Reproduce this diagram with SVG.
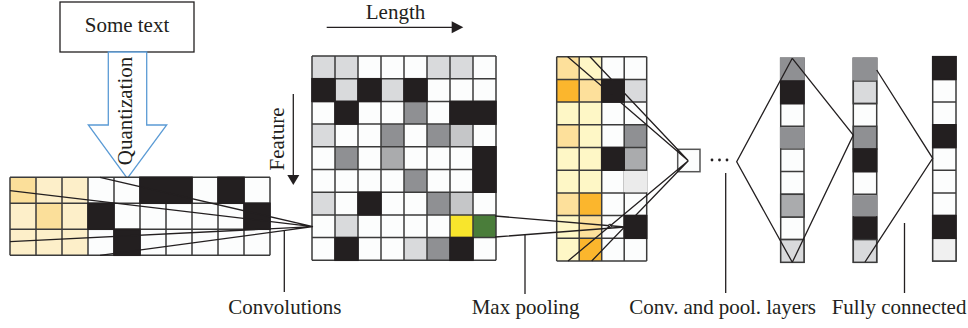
<svg xmlns="http://www.w3.org/2000/svg" width="968" height="328" viewBox="0 0 968 328">
<style>
text{font-family:"Liberation Serif","Times New Roman",serif;font-size:21px;fill:#231f20}
.grid{fill:none;stroke:#3b3b3b;stroke-width:1.5}
.cell{stroke:#3b3b3b;stroke-width:1.5}
.w{fill:#fcfdfd}.lg{fill:#d9dadc}.g{fill:#8f9093}.s{fill:#c5c6c8}.m{fill:#aaabad}
.k{fill:#231f20;stroke:#231f20;stroke-width:1.5}
.y{fill:#f8e52c}.gr{fill:#4a7d3a}.py{fill:#fef7c6}.lo{fill:#fde09b}.or{fill:#fbb62d}
.ly{fill:#fdefc9}.dy{fill:#fbdf9a}.vl{fill:#ebebeb}.xl{fill:#f0f0f0}
.ln{fill:none;stroke:#231f20;stroke-width:1.3}
</style>

<g id="some-text">
<rect x="60" y="2" width="134" height="50" fill="#fff" stroke="#231f20" stroke-width="1.3"/>
<text x="127" y="32" text-anchor="middle">Some text</text>
</g>

<g id="quantization-arrow">
<polygon points="108.3,52 108.3,125 88.3,125 127.3,178.3 166.7,125 146.7,125 146.7,52" fill="#fff" stroke="#5b9bd5" stroke-width="1.3"/>
<text transform="translate(132,111) rotate(-90)" text-anchor="middle">Quantization</text>
</g>

<g id="input-matrix">
<rect x="10" y="177.3" width="260" height="78" class="w"/>
<rect x="10" y="177.3" width="78" height="78" class="ly"/>
<rect x="10" y="177.3" width="26" height="26" class="dy"/>
<rect x="36" y="203.3" width="26" height="26" class="dy"/>
<path class="grid" d="M10 177.3V255.3M36 177.3V255.3M62 177.3V255.3M88 177.3V255.3M114 177.3V255.3M140 177.3V255.3M166 177.3V255.3M192 177.3V255.3M218 177.3V255.3M244 177.3V255.3M270 177.3V255.3M10 177.3H270M10 203.3H270M10 229.3H270M10 255.3H270"/>
<rect x="140" y="177.3" width="52" height="26" class="k"/>
<rect x="218" y="177.3" width="26" height="26" class="k"/>
<rect x="88" y="203.3" width="26" height="26" class="k"/>
<rect x="244" y="203.3" width="26" height="26" class="k"/>
<rect x="114" y="229.3" width="26" height="26" class="k"/>
</g>

<g id="length-axis">
<text x="395.5" y="19" text-anchor="middle">Length</text>
<path class="ln" d="M326.7 27.3H453"/>
<polygon points="451.7,21.3 463.3,27.3 451.7,33.3" fill="#231f20"/>
</g>

<g id="feature-axis">
<text transform="translate(284,139) rotate(-90)" text-anchor="middle">Feature</text>
<path class="ln" d="M293.3 94V176"/>
<polygon points="287.3,175 299.3,175 293.3,185" fill="#231f20"/>
</g>

<g id="feature-map">
<rect x="312" y="56" width="184" height="204.3" class="w"/>
<rect x="312" y="56" width="23" height="22.7" class="lg"/>
<rect x="335" y="56" width="23" height="22.7" class="lg"/>
<rect x="427" y="56" width="23" height="22.7" class="lg"/>
<rect x="450" y="56" width="23" height="22.7" class="lg"/>
<rect x="335" y="78.7" width="23" height="22.7" class="lg"/>
<rect x="381" y="78.7" width="23" height="22.7" class="lg"/>
<rect x="404" y="101.4" width="23" height="22.7" class="g"/>
<rect x="312" y="124.1" width="23" height="22.7" class="lg"/>
<rect x="381" y="124.1" width="23" height="22.7" class="g"/>
<rect x="427" y="124.1" width="23" height="22.7" class="g"/>
<rect x="450" y="124.1" width="23" height="22.7" class="s"/>
<rect x="335" y="146.8" width="23" height="22.7" class="g"/>
<rect x="381" y="146.8" width="23" height="22.7" class="m"/>
<rect x="404" y="169.5" width="23" height="22.7" class="g"/>
<rect x="312" y="192.2" width="23" height="22.7" class="lg"/>
<rect x="427" y="192.2" width="23" height="22.7" class="g"/>
<rect x="450" y="192.2" width="23" height="22.7" class="s"/>
<rect x="335" y="214.9" width="23" height="22.7" class="lg"/>
<rect x="450" y="214.9" width="23" height="22.7" class="y"/>
<rect x="473" y="214.9" width="23" height="22.7" class="gr"/>
<rect x="404" y="237.6" width="23" height="22.7" class="lg"/>
<rect x="427" y="237.6" width="23" height="22.7" class="g"/>
<path class="grid" d="M312 56V260.3M335 56V260.3M358 56V260.3M381 56V260.3M404 56V260.3M427 56V260.3M450 56V260.3M473 56V260.3M496 56V260.3M312 56H496M312 78.7H496M312 101.4H496M312 124.1H496M312 146.8H496M312 169.5H496M312 192.2H496M312 214.9H496M312 237.6H496M312 260.3H496"/>
<rect x="312" y="78.7" width="23" height="22.7" class="k"/>
<rect x="358" y="78.7" width="23" height="22.7" class="k"/>
<rect x="404" y="78.7" width="23" height="22.7" class="k"/>
<rect x="335" y="101.4" width="23" height="22.7" class="k"/>
<rect x="450" y="101.4" width="46" height="22.7" class="k"/>
<rect x="473" y="146.8" width="23" height="45.4" class="k"/>
<rect x="358" y="192.2" width="23" height="22.7" class="k"/>
<rect x="335" y="237.6" width="23" height="22.7" class="k"/>
<rect x="450" y="237.6" width="23" height="22.7" class="k"/>
</g>

<g id="pooled-map">
<rect x="556.7" y="56.7" width="90" height="204.3" class="w"/>
<rect x="556.7" y="56.7" width="22.5" height="22.7" class="lo"/>
<rect x="579.2" y="56.7" width="22.5" height="22.7" class="py"/>
<rect x="556.7" y="79.4" width="22.5" height="22.7" class="or"/>
<rect x="579.2" y="79.4" width="22.5" height="22.7" class="lo"/>
<rect x="624.2" y="79.4" width="22.5" height="22.7" class="lg"/>
<rect x="556.7" y="102.1" width="45" height="22.7" class="py"/>
<rect x="556.7" y="124.8" width="22.5" height="22.7" class="lo"/>
<rect x="579.2" y="124.8" width="22.5" height="22.7" class="py"/>
<rect x="624.2" y="124.8" width="22.5" height="22.7" class="g"/>
<rect x="556.7" y="147.5" width="45" height="45.4" class="py"/>
<rect x="624.2" y="147.5" width="22.5" height="22.7" class="m"/>
<rect x="556.7" y="192.9" width="22.5" height="22.7" class="lo"/>
<rect x="579.2" y="192.9" width="22.5" height="22.7" class="or"/>
<rect x="556.7" y="215.6" width="22.5" height="22.7" class="py"/>
<rect x="579.2" y="215.6" width="22.5" height="22.7" class="lo"/>
<rect x="556.7" y="238.3" width="22.5" height="22.7" class="py"/>
<rect x="579.2" y="238.3" width="22.5" height="22.7" class="or"/>
<path class="grid" d="M556.7 56.7V261M579.2 56.7V261M601.7 56.7V261M624.2 56.7V261M646.7 56.7V261M556.7 56.7H646.7M556.7 79.4H646.7M556.7 102.1H646.7M556.7 124.8H646.7M556.7 147.5H646.7M556.7 170.2H646.7M556.7 192.9H646.7M556.7 215.6H646.7M556.7 238.3H646.7M556.7 261H646.7"/>
<rect x="623.4" y="170.9" width="24.2" height="21.3" class="vl"/>
<rect x="601.7" y="79.4" width="22.5" height="22.7" class="k"/>
<rect x="601.7" y="147.5" width="22.5" height="22.7" class="k"/>
<rect x="624.2" y="215.6" width="22.5" height="22.7" class="k"/>
</g>

<g id="conv-unit">
<rect x="677.7" y="149.3" width="22.3" height="22.4" fill="#fcfdfd" stroke="#555" stroke-width="1.5"/>
</g>

<g id="ellipsis">
<circle cx="712" cy="160" r="1.4" fill="#231f20"/>
<circle cx="719.5" cy="160" r="1.4" fill="#231f20"/>
<circle cx="727" cy="160" r="1.4" fill="#231f20"/>
</g>

<g id="layer-a">
<rect x="780.7" y="58.3" width="23.3" height="204" class="w cell"/>
<path class="grid" d="M780.7 81H804M780.7 103.6H804M780.7 126.3H804M780.7 149H804M780.7 171.6H804M780.7 194.3H804M780.7 217H804M780.7 239.6H804"/>
<rect x="779.9" y="57.5" width="24.9" height="22.8" class="g"/>
<rect x="780.7" y="81" width="23.3" height="22.6" class="k"/>
<rect x="779.9" y="127.1" width="24.9" height="21.1" class="g"/>
<rect x="780.7" y="194.3" width="23.3" height="22.7" class="m cell"/>
<rect x="780.7" y="239.6" width="23.3" height="22.7" class="lg cell"/>
</g>

<g id="layer-b">
<rect x="853.3" y="58.3" width="23.4" height="204" class="w cell"/>
<rect x="853.3" y="81" width="23.4" height="22.6" class="lg cell"/>
<rect x="853.3" y="126.3" width="23.4" height="22.7" class="g cell"/>
<path class="grid" d="M853.3 103.6H876.7M853.3 171.6H876.7M853.3 194.3H876.7"/>
<rect x="852.5" y="57.5" width="25" height="22.8" class="g"/>
<rect x="853.3" y="149" width="23.4" height="22.6" class="k"/>
<rect x="852.5" y="195.1" width="25" height="21.1" class="g"/>
<rect x="853.3" y="217" width="23.4" height="22.6" class="k"/>
<rect x="853.3" y="239.6" width="23.4" height="22.7" class="lg cell"/>
</g>

<g id="fully-connected">
<rect x="932.7" y="56.7" width="23.3" height="204.3" class="w cell"/>
<rect x="932.7" y="238.3" width="23.3" height="22.7" class="xl cell"/>
<path class="grid" d="M932.7 79.4H956M932.7 102.1H956M932.7 124.8H956M932.7 147.5H956M932.7 170.2H956M932.7 192.9H956M932.7 215.6H956"/>
<rect x="932.7" y="56.7" width="23.3" height="22.7" class="k"/>
<rect x="932.7" y="124.8" width="23.3" height="22.7" class="k"/>
<rect x="932.7" y="215.6" width="23.3" height="22.7" class="k"/>
</g>

<g id="connectors">
<path class="ln" d="M10 190.7L313 226.7M100 177.3L313 226.7M10 241.7L313 226.7M100 255.3L313 226.7"/>
<path class="ln" d="M495 216L625 227M495 237L625 227"/>
<circle cx="610" cy="226" r="1.8" fill="#fff" stroke="#231f20" stroke-width="1"/>
<path class="ln" d="M567.7 56.7L688.3 160.7M590 56.7L688.3 160.7M568 261L688.3 160.7M591.7 261L688.3 160.7"/>
<path class="ln" d="M792.3 58.3L736.7 161.7L792.3 262.3M792.3 58.3L853.3 135L792.3 262.3"/>
<path class="ln" d="M876.7 70L932.7 158.3L865 262"/>
<path class="ln" d="M284.3 230V292M525 234.7V294M725.7 173V293M904.5 223V293"/>
</g>

<g id="labels">
<text x="228.3" y="314">Convolutions</text>
<text x="471.7" y="314">Max pooling</text>
<text x="629.3" y="314" textLength="186.7" lengthAdjust="spacing">Conv. and pool. layers</text>
<text x="831.7" y="314">Fully connected</text>
</g>
</svg>
